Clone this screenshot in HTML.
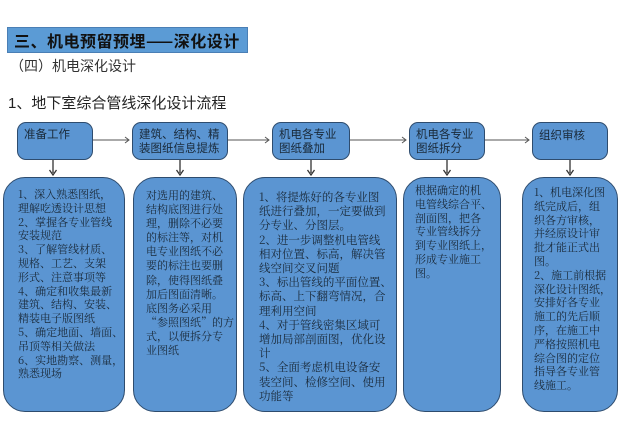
<!DOCTYPE html>
<html><head><meta charset="utf-8"><style>
body{margin:0;width:640px;height:443px;background:#fff;position:relative;overflow:hidden;font-family:"Liberation Sans","Noto Sans CJK SC",sans-serif}
.a{position:absolute;white-space:nowrap}
.t{background:#5b9bd5;border:1px solid #4a7fb5;color:#111;font-weight:bold;font-size:16px;line-height:25px;padding-left:6px;box-sizing:border-box;font-family:"Noto Sans CJK SC",sans-serif;letter-spacing:0.5px}
.b{position:absolute;background:#5b95d2;border:1.5px solid #2e4c6e;border-radius:9px;box-sizing:border-box;font-size:11.5px;line-height:14px;color:#1a2a3a;padding:5px 6px;white-space:nowrap}
.c{position:absolute;background:#5b95d2;border:1.5px solid #2e4c6e;border-radius:22px;box-sizing:border-box;font-family:"Noto Serif CJK SC","Liberation Serif",serif;font-size:11px;line-height:13.8px;color:#1a2a3a;padding:10px 0 0 12px;white-space:nowrap}
</style></head><body>
<div class="a t" style="left:7px;top:27px;width:241px;height:26px">三、机电预留预埋——深化设计</div>
<div class="a" style="left:10px;top:56px;font-size:14px;color:#333">（四）机电深化设计</div>
<div class="a" style="left:8px;top:92px;font-size:15px;color:#222">1、地下室综合管线深化设计流程</div>

<div class="b" style="left:17px;top:122px;width:76px;height:38px">准备工作</div>
<div class="b" style="left:132px;top:122px;width:96px;height:38px">建筑、结构、精<br>装图纸信息提炼</div>
<div class="b" style="left:272px;top:122px;width:78px;height:38px">机电各专业<br>图纸叠加</div>
<div class="b" style="left:409px;top:122px;width:76px;height:38px">机电各专业<br>图纸拆分</div>
<div class="b" style="left:532px;top:122px;width:76px;height:38px;padding-top:6px">组织审核</div>

<svg class="a" style="left:0;top:0" width="640" height="443">
<g stroke="#555" stroke-width="1" fill="none">
<path d="M93 140H129M125 137L129 140L125 143"/>
<path d="M228 140H269M265 137L269 140L265 143"/>
<path d="M350 140H406M402 137L406 140L402 143"/>
<path d="M485 140H529M525 137L529 140L525 143"/>
</g>
<g stroke="#333" stroke-width="1.3" fill="none">
<path d="M53 160V173M49.5 170L53 175L56.5 170"/>
<path d="M180 160V173M176.5 170L180 175L183.5 170"/>
<path d="M311 160V173M307.5 170L311 175L314.5 170"/>
<path d="M447 160V173M443.5 170L447 175L450.5 170"/>
<path d="M570 160V173M566.5 170L570 175L573.5 170"/>
</g>
</svg>

<div class="c" style="left:3px;top:177px;width:122px;height:235px;padding-left:14px">1、深入熟悉图纸，<br>理解吃透设计思想<br>2、掌握各专业管线<br>安装规范<br>3、了解管线材质、<br>规格、工艺、支架<br>形式、注意事项等<br>4、确定和收集最新<br>建筑、结构、安装、<br>精装电子版图纸<br>5、确定地面、墙面、<br>吊顶等相关做法<br>6、实地勘察、测量，<br>熟悉现场</div>
<div class="c" style="left:133px;top:177px;width:104px;height:235px;line-height:14.1px">对选用的建筑、<br>结构底图进行处<br>理，删除不必要<br>的标注等，对机<br>电专业图纸不必<br>要的标注也要删<br>除，使得图纸叠<br>加后图面清晰。<br>底图务必采用<br>“参照图纸”的方<br>式，以便拆分专<br>业图纸</div>
<div class="c" style="left:243px;top:177px;width:154px;height:235px;padding-left:15px;font-size:11.5px;line-height:14.2px;padding-top:12px">1、将提炼好的各专业图<br>纸进行叠加，一定要做到<br>分专业、分图层。<br>2、进一步调整机电管线<br>相对位置、标高，解决管<br>线空间交叉问题<br>3、标出管线的平面位置、<br>标高、上下翻弯情况，合<br>理利用空间<br>4、对于管线密集区域可<br>增加局部剖面图，优化设<br>计<br>5、全面考虑机电设备安<br>装空间、检修空间、使用<br>功能等</div>
<div class="c" style="left:403px;top:177px;width:98px;height:235px;padding-left:11px;padding-top:6px">根据确定的机<br>电管线综合平、<br>剖面图，把各<br>专业管线拆分<br>到专业图纸上，<br>形成专业施工<br>图。</div>
<div class="c" style="left:522px;top:177px;width:96px;height:235px;padding-left:11px;padding-top:8px">1、机电深化图<br>纸完成后，组<br>织各方审核，<br>并经原设计审<br>批才能正式出<br>图。<br>2、施工前根据<br>深化设计图纸，<br>安排好各专业<br>施工的先后顺<br>序，在施工中<br>严格按照机电<br>综合图的定位<br>指导各专业管<br>线施工。</div>
</body></html>
